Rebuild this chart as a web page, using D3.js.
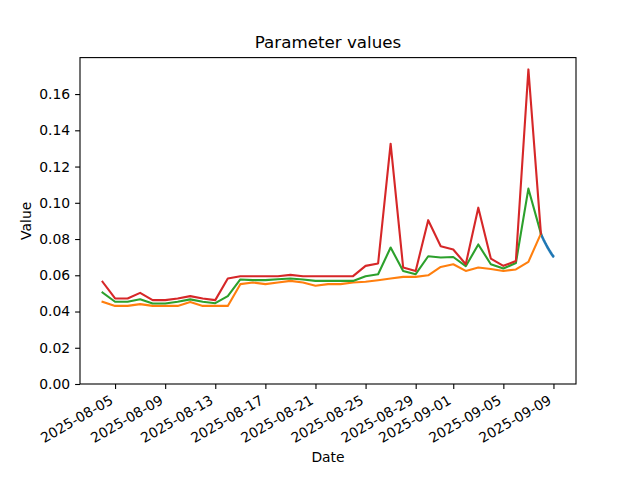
<!DOCTYPE html>
<html>
<head>
<meta charset="utf-8">
<script src="https://cdn.jsdelivr.net/npm/d3@7"></script>
<style>
  html, body { margin: 0; padding: 0; background: #fff; }
  svg { display: block; }
  text { font-family: "DejaVu Sans", sans-serif; fill: #000; }
</style>
</head>
<body>
<svg id="chart" width="640" height="480"></svg>
<script>
// ---------- data ----------
const dailyDates = [
  "2025-08-04","2025-08-05","2025-08-06","2025-08-07","2025-08-08","2025-08-09",
  "2025-08-10","2025-08-11","2025-08-12","2025-08-13","2025-08-14","2025-08-15",
  "2025-08-16","2025-08-17","2025-08-18","2025-08-19","2025-08-20","2025-08-21",
  "2025-08-22","2025-08-23","2025-08-24","2025-08-25","2025-08-26","2025-08-27",
  "2025-08-28","2025-08-29","2025-08-30","2025-08-31","2025-09-01","2025-09-02",
  "2025-09-03","2025-09-04","2025-09-05","2025-09-06","2025-09-07","2025-09-08"
];
const orangeValues = [
  0.0454,0.0431,0.0431,0.0441,0.0431,0.0431,0.0431,0.0452,0.0431,0.0431,0.0431,0.0551,
  0.0560,0.0551,0.0560,0.0569,0.0560,0.0542,0.0551,0.0551,0.0560,0.0564,0.0573,0.0582,
  0.0591,0.0591,0.0600,0.0646,0.0661,0.0624,0.0643,0.0635,0.0624,0.0632,0.0674,0.0830
];
const greenValues = [
  0.0505,0.0454,0.0454,0.0468,0.0444,0.0444,0.0454,0.0467,0.0454,0.0446,0.0485,0.0577,
  0.0573,0.0573,0.0578,0.0582,0.0577,0.0569,0.0569,0.0569,0.0569,0.0595,0.0606,0.0753,
  0.0624,0.0606,0.0705,0.0698,0.0701,0.0650,0.0770,0.0661,0.0637,0.0668,0.1078,0.0830
];
const redValues = [
  0.0564,0.0472,0.0472,0.0503,0.0463,0.0463,0.0472,0.0485,0.0472,0.0463,0.0582,0.0595,
  0.0595,0.0595,0.0595,0.0602,0.0595,0.0595,0.0595,0.0595,0.0595,0.0652,0.0665,0.1326,
  0.0643,0.0624,0.0904,0.0760,0.0742,0.0661,0.0973,0.0692,0.0652,0.0679,0.1736,0.0830
];
// intraday series (every 30 min, 2025-09-08 00:00 -> 2025-09-09 00:00)
const blueStart = "2025-09-08T00:00";
const blueEnd = "2025-09-09T00:30";
const blueValues = [
  0.0830,0.0822,0.0826,0.0815,0.0819,0.0808,0.0812,0.0802,0.0806,0.0796,0.0800,0.0790,
  0.0794,0.0785,0.0789,0.0779,0.0783,0.0773,0.0777,0.0768,0.0772,0.0762,0.0766,0.0757,
  0.0761,0.0752,0.0756,0.0747,0.0751,0.0742,0.0746,0.0737,0.0741,0.0732,0.0736,0.0728,
  0.0732,0.0723,0.0727,0.0719,0.0723,0.0714,0.0718,0.0710,0.0714,0.0706,0.0710,0.0702,0.0705
];
const xTickDates = ["2025-08-05","2025-08-09","2025-08-13","2025-08-17","2025-08-21",
  "2025-08-25","2025-08-29","2025-09-01","2025-09-05","2025-09-09"];
const yTickValues = [0,0.02,0.04,0.06,0.08,0.10,0.12,0.14,0.16];
const colors = { blue: "#1f77b4", orange: "#ff7f0e", green: "#2ca02c", red: "#d62728" };

// ---------- layout ----------
const svg = d3.select("#chart");
const L = 80, R = 576, T = 57.6, B = 384;
const parseDay = d3.utcParse("%Y-%m-%d");
const parseHour = d3.utcParse("%Y-%m-%dT%H:%M");
const days = dailyDates.map(parseDay);
const blueTimes = d3.utcMinute.every(30).range(parseHour(blueStart), parseHour(blueEnd));

const allTimes = days.concat(blueTimes);
const tMin = d3.min(allTimes), tMax = d3.max(allTimes);
const span = tMax - tMin;
const x = d3.scaleUtc()
  .domain([new Date(+tMin - 0.05 * span), new Date(+tMax + 0.05 * span)])
  .range([L, R]);

const allVals = orangeValues.concat(greenValues, redValues, blueValues);
const vMin = d3.min(allVals), vMax = d3.max(allVals);
const y = d3.scaleLinear().domain([0, vMax + 0.05 * (vMax - vMin)]).range([B, T]);

// ---------- lines ----------
const g = svg.append("g");
const line = d3.line().x(d => x(d[0])).y(d => y(d[1]));
const series = [
  { c: colors.blue, pts: blueTimes.map((t, i) => [t, blueValues[i]]) },
  { c: colors.orange, pts: days.map((t, i) => [t, orangeValues[i]]) },
  { c: colors.green, pts: days.map((t, i) => [t, greenValues[i]]) },
  { c: colors.red, pts: days.map((t, i) => [t, redValues[i]]) }
];
series.forEach(s => {
  g.append("path").attr("d", line(s.pts)).attr("fill", "none")
    .attr("stroke", s.c).attr("stroke-width", 2.1)
    .attr("stroke-linejoin", "round").attr("stroke-linecap", "square");
});

// ---------- axes ----------
const fs = 13.9;
const xAxis = d3.axisBottom(x).tickValues(xTickDates.map(parseDay))
  .tickFormat(d3.utcFormat("%Y-%m-%d")).tickSizeOuter(0).tickSize(4.9).tickPadding(4.9);
const xg = svg.append("g").attr("transform", `translate(0,${B})`).call(xAxis);
xg.select(".domain").remove();
xg.selectAll(".tick line").attr("stroke", "#000").attr("stroke-width", 1.1);
xg.selectAll(".tick text")
  .attr("font-size", fs).attr("font-family", "DejaVu Sans")
  .attr("text-anchor", "end").attr("dy", null).attr("y", null)
  .attr("transform", "translate(-1.5,19) rotate(-30)");

const yAxis = d3.axisLeft(y).tickValues(yTickValues).tickFormat(d3.format(".2f"))
  .tickSizeOuter(0).tickSize(4.9).tickPadding(4.9);
const yg = svg.append("g").attr("transform", `translate(${L},0)`).call(yAxis);
yg.select(".domain").remove();
yg.selectAll(".tick line").attr("stroke", "#000").attr("stroke-width", 1.1);
yg.selectAll(".tick text").attr("font-size", fs).attr("font-family", "DejaVu Sans");

// frame
svg.append("rect").attr("x", L).attr("y", T).attr("width", R - L).attr("height", B - T)
  .attr("fill", "none").attr("stroke", "#000").attr("stroke-width", 1.1);

// labels
svg.append("text").attr("x", (L + R) / 2).attr("y", 48).attr("text-anchor", "middle")
  .attr("font-size", 16.7).text("Parameter values");
svg.append("text").attr("x", (L + R) / 2).attr("y", 462).attr("text-anchor", "middle")
  .attr("font-size", fs).text("Date");
svg.append("text").attr("transform", `translate(31,${(T + B) / 2}) rotate(-90)`)
  .attr("text-anchor", "middle").attr("font-size", fs).text("Value");
</script>
</body>
</html>
